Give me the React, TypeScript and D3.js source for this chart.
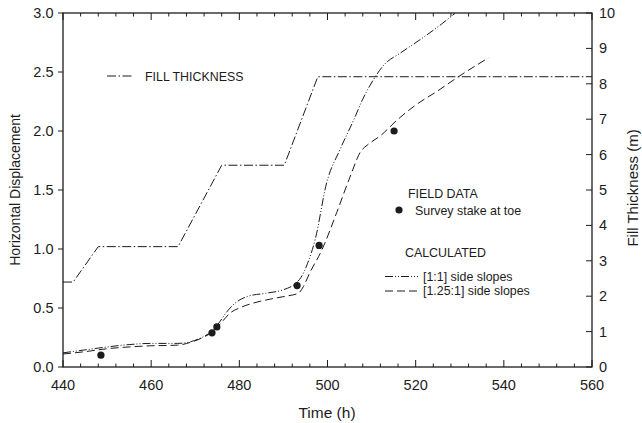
import React from "react";
import * as d3 from "d3";

// Fill placement history (right axis, metres)
const fillTime = [440, 442.3, 448, 466.1, 476, 490.2, 497.8, 560];
const fillThickness = [2.4, 2.4, 3.4, 3.4, 5.7, 5.7, 8.2, 8.2];

// Calculated horizontal displacement, [1:1] side slopes
const slope1Time = [440, 445, 450, 455, 460, 466, 469, 472, 474, 475.5, 477, 479, 482, 486, 490, 492.5, 494, 495.5, 497.2, 499.8, 502.8, 505.9, 508, 510.5, 512.8, 516.5, 522, 526, 529];
const slope1Disp = [0.12, 0.145, 0.17, 0.19, 0.2, 0.2, 0.215, 0.26, 0.31, 0.38, 0.46, 0.54, 0.6, 0.625, 0.655, 0.7, 0.76, 0.88, 1.08, 1.56, 1.84, 2.09, 2.27, 2.44, 2.56, 2.66, 2.8, 2.91, 3.0];

// Calculated horizontal displacement, [1.25:1] side slopes
const slope125Time = [440, 445, 450, 455, 460, 466, 469, 472, 474, 476, 478, 480, 483, 487, 490.5, 493.4, 494.5, 496, 498.7, 502.1, 505.1, 507.6, 509, 512, 516, 520, 525, 529.3, 536.5];
const slope125Disp = [0.11, 0.13, 0.155, 0.17, 0.18, 0.185, 0.21, 0.255, 0.3, 0.38, 0.46, 0.5, 0.54, 0.575, 0.6, 0.625, 0.68, 0.8, 0.99, 1.31, 1.61, 1.83, 1.88, 1.96, 2.1, 2.22, 2.34, 2.45, 2.62];

// Field survey stakes at toe
const stakeTime = [448.6, 473.8, 474.9, 493.1, 498.1, 515.1];
const stakeDisp = [0.1, 0.29, 0.34, 0.69, 1.03, 2.0];

// Axis ticks
const xTicks = [440, 460, 480, 500, 520, 540, 560];
const yTicks = [0, 0.5, 1.0, 1.5, 2.0, 2.5, 3.0];
const y2Ticks = [0, 1, 2, 3, 4, 5, 6, 7, 8, 9, 10];

const W = 642;
const H = 423;
const M = { left: 63, right: 592, top: 13, bottom: 367 };
const INK = "#1c1c1c";
const FONT = "'Liberation Sans', Arial, Helvetica, sans-serif";
const LEG = 12.4;

export default function App() {
  const x = d3.scaleLinear().domain([440, 560]).range([M.left, M.right]);
  const y = d3.scaleLinear().domain([0, 3]).range([M.bottom, M.top]);
  const y2 = d3.scaleLinear().domain([0, 10]).range([M.bottom, M.top]);

  const minorX = d3.range(440, 560.01, 4);

  const fillPts: [number, number][] = fillTime.map((t, i) => [t, fillThickness[i]]);
  const s1Pts: [number, number][] = slope1Time.map((t, i) => [t, slope1Disp[i]]);
  const s2Pts: [number, number][] = slope125Time.map((t, i) => [t, slope125Disp[i]]);

  const fillLine = d3
    .line<[number, number]>()
    .x((d) => x(d[0]))
    .y((d) => y2(d[1]));
  const dispLine = d3
    .line<[number, number]>()
    .x((d) => x(d[0]))
    .y((d) => y(d[1]))
    .curve(d3.curveMonotoneX);

  const dashFill = "9 2.5 1.5 2.5";
  const dashS1 = "8 2 1 2 1 2";
  const dashS2 = "8 4";

  return (
    <svg
      width={W}
      height={H}
      style={{ position: "absolute", left: 0, top: 0, background: "#fff" }}
      fontFamily={FONT}
    >
      <defs>
        <clipPath id="plotArea">
          <rect x={M.left} y={M.top} width={M.right - M.left} height={M.bottom - M.top} />
        </clipPath>
      </defs>

      {/* frame */}
      <rect
        x={M.left}
        y={M.top}
        width={M.right - M.left}
        height={M.bottom - M.top}
        fill="none"
        stroke={INK}
        strokeWidth={1.3}
      />

      {/* bottom and top ticks (inward) */}
      {minorX.map((t) => {
        const major = Math.abs(t % 20) < 1e-6;
        const len = major ? 7 : 3.5;
        return (
          <g key={"xt" + t} stroke={INK} strokeWidth={1}>
            <line x1={x(t)} x2={x(t)} y1={M.bottom} y2={M.bottom - len} />
            <line x1={x(t)} x2={x(t)} y1={M.top} y2={M.top + len} />
          </g>
        );
      })}
      {xTicks.map((t) => (
        <text
          key={"xl" + t}
          x={x(t)}
          y={390}
          textAnchor="middle"
          fontSize={14.5}
          fill={INK}
        >
          {t}
        </text>
      ))}

      {/* left ticks (outward) */}
      {yTicks.map((v) => (
        <g key={"yt" + v}>
          <line x1={M.left - 5} x2={M.left} y1={y(v)} y2={y(v)} stroke={INK} strokeWidth={1} />
          <text x={53.5} y={y(v) + 5} textAnchor="end" fontSize={14.5} fill={INK}>
            {v.toFixed(1)}
          </text>
        </g>
      ))}

      {/* right ticks (inward) */}
      {y2Ticks.map((v) => (
        <g key={"y2t" + v}>
          <line x1={M.right - 6} x2={M.right} y1={y2(v)} y2={y2(v)} stroke={INK} strokeWidth={1} />
          <text x={599} y={y2(v) + 5} textAnchor="start" fontSize={14.5} fill={INK}>
            {v}
          </text>
        </g>
      ))}

      {/* axis titles */}
      <text x={327} y={418} textAnchor="middle" fontSize={15.5} fill={INK}>
        Time (h)
      </text>
      <text
        transform={`translate(20, ${(M.top + M.bottom) / 2}) rotate(-90)`}
        textAnchor="middle"
        fontSize={14}
        fill={INK}
      >
        Horizontal Displacement
      </text>
      <text
        transform={`translate(637.5, 188) rotate(-90)`}
        textAnchor="middle"
        fontSize={15}
        fill={INK}
      >
        Fill Thickness (m)
      </text>

      {/* series */}
      <g clipPath="url(#plotArea)" fill="none" stroke={INK} strokeWidth={1}>
        <path d={fillLine(fillPts) ?? ""} strokeDasharray={dashFill} />
        <path d={dispLine(s1Pts) ?? ""} strokeDasharray={dashS1} />
        <path d={dispLine(s2Pts) ?? ""} strokeDasharray={dashS2} />
      </g>
      {stakeTime.map((t, i) => (
        <circle key={"st" + i} cx={x(t)} cy={y(stakeDisp[i])} r={3.6} fill={INK} />
      ))}

      {/* legends */}
      <line x1={107} x2={134} y1={76} y2={76} stroke={INK} strokeWidth={1} strokeDasharray={dashFill} />
      <text x={145} y={80.5} fontSize={LEG} fill={INK}>
        FILL THICKNESS
      </text>

      <text x={408} y={197.5} fontSize={LEG} fill={INK}>
        FIELD DATA
      </text>
      <circle cx={399} cy={210} r={3.6} fill={INK} />
      <text x={415} y={214.5} fontSize={LEG} fill={INK}>
        Survey stake at toe
      </text>

      <text x={405} y={256.5} fontSize={LEG} fill={INK}>
        CALCULATED
      </text>
      <line x1={385} x2={418} y1={276.5} y2={276.5} stroke={INK} strokeWidth={1} strokeDasharray={dashS1} />
      <text x={423} y={280.5} fontSize={LEG} fill={INK}>
        [1:1] side slopes
      </text>
      <line x1={385} x2={418} y1={291} y2={291} stroke={INK} strokeWidth={1} strokeDasharray={dashS2} />
      <text x={423} y={295} fontSize={LEG} fill={INK}>
        [1.25:1] side slopes
      </text>
    </svg>
  );
}
